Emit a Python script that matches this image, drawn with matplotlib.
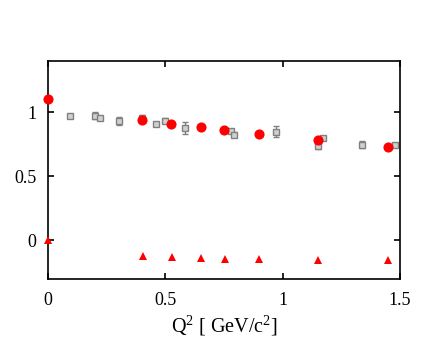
import matplotlib
matplotlib.use("Agg")
import matplotlib.pyplot as plt

# Red circles
circ_x = [0.0, 0.40, 0.527, 0.651, 0.751, 0.901, 1.15, 1.45]
circ_y = [1.10, 0.94, 0.91, 0.88, 0.86, 0.83, 0.78, 0.73]

# Red triangles
tri_x = [0.0, 0.404, 0.528, 0.651, 0.754, 0.899, 1.153, 1.45]
tri_y = [0.0, -0.12, -0.13, -0.137, -0.142, -0.147, -0.15, -0.15]

# Gray squares with error bars
sq_x = [0.094, 0.202, 0.224, 0.303, 0.40, 0.463, 0.501, 0.585, 0.780, 0.792, 0.974, 1.150, 1.171, 1.340, 1.480]
sq_y = [0.972, 0.972, 0.953, 0.930, 0.955, 0.907, 0.933, 0.879, 0.853, 0.825, 0.845, 0.734, 0.796, 0.747, 0.742]
sq_err = [0.012, 0.027, 0.010, 0.030, 0.020, 0.010, 0.020, 0.047, 0.012, 0.020, 0.043, 0.025, 0.010, 0.030, 0.010]

plt.rcParams['font.family'] = ['Liberation Serif', 'DejaVu Serif']
plt.rcParams['mathtext.fontset'] = 'custom'
plt.rcParams['mathtext.rm'] = 'Liberation Serif'

fig = plt.figure(figsize=(4.36, 3.40), dpi=100)
ax = fig.add_axes([0.1094, 0.1794, 0.808, 0.6421])

ax.errorbar(sq_x, sq_y, yerr=sq_err, fmt='s', color='#808080', mfc='#d0d0d0',
            mec='#808080', ms=3.8, mew=1.0, elinewidth=1.0, capsize=2, capthick=1.0,
            zorder=2, clip_on=False)
ax.plot(circ_x, circ_y, 'o', color='#ff0000', ms=7.3, mew=0, zorder=3, clip_on=False)
ax.plot(tri_x, tri_y, '^', color='#ff0000', ms=5.5, mew=0, zorder=3, clip_on=False)

ax.set_xlim(0, 1.5)
ax.set_ylim(-0.3, 1.4)
ax.set_xticks([0, 0.5, 1, 1.5])
ax.set_xticklabels(['0', '0.5', '1', '1.5'])
ax.set_yticks([0, 0.5, 1])
ax.set_yticklabels(['0', '0.5', '1'])
ax.tick_params(direction='in', top=True, right=True, length=4, width=1.2, labelsize=13)
ax.tick_params(axis='x', pad=9)
ax.tick_params(axis='y', pad=8)
for s in ax.spines.values():
    s.set_linewidth(1.2)

ax.set_xlabel(r'Q$^{2}$ [ GeV/c$^{2}$]', fontsize=14.5, labelpad=3)

fig.savefig('out.png', dpi=100)
